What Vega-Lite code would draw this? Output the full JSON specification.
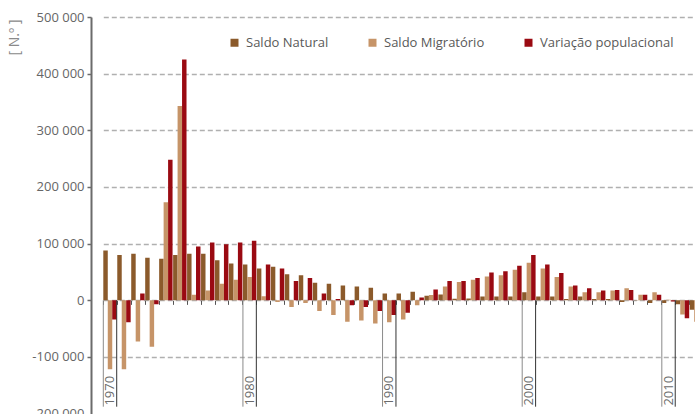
{
  "$schema": "https://vega.github.io/schema/vega-lite/v6.json",
  "width": 598,
  "height": 396.5,
  "autosize": {"type": "none"},
  "padding": {"left": 97, "top": 17, "right": 0, "bottom": 0},
  "background": "white",
  "config": {
    "view": {"stroke": null},
    "font": "Open Sans",
    "locale": {"number": {"decimal": ",", "thousands": " ", "grouping": [3], "currency": ["", " €"], "minus": "-"}},
    "axisX": {"domain": false, "labels": false, "ticks": true, "tickSize": 4, "tickColor": "#555555", "tickWidth": 1, "bandPosition": 0, "offset": -113.14, "grid": false}
  },
  "datasets": {
    "main": [
      {"year": 1970, "Saldo Natural": 87600, "Saldo Migratório": -122000, "Variação populacional": -34000},
      {"year": 1971, "Saldo Natural": 80000, "Saldo Migratório": -122000, "Variação populacional": -39000},
      {"year": 1972, "Saldo Natural": 82000, "Saldo Migratório": -73000, "Variação populacional": 12000},
      {"year": 1973, "Saldo Natural": 75000, "Saldo Migratório": -82000, "Variação populacional": -7000},
      {"year": 1974, "Saldo Natural": 73000, "Saldo Migratório": 173000, "Variação populacional": 248000},
      {"year": 1975, "Saldo Natural": 80000, "Saldo Migratório": 343000, "Variação populacional": 425000},
      {"year": 1976, "Saldo Natural": 82000, "Saldo Migratório": 9500, "Variação populacional": 95000},
      {"year": 1977, "Saldo Natural": 82000, "Saldo Migratório": 17000, "Variação populacional": 102000},
      {"year": 1978, "Saldo Natural": 70500, "Saldo Migratório": 29000, "Variação populacional": 99000},
      {"year": 1979, "Saldo Natural": 65000, "Saldo Migratório": 36000, "Variação populacional": 102000},
      {"year": 1980, "Saldo Natural": 63000, "Saldo Migratório": 41000, "Variação populacional": 105000},
      {"year": 1981, "Saldo Natural": 56000, "Saldo Migratório": 7000, "Variação populacional": 63000},
      {"year": 1982, "Saldo Natural": 59000, "Saldo Migratório": -3000, "Variação populacional": 56000},
      {"year": 1983, "Saldo Natural": 46000, "Saldo Migratório": -12000, "Variação populacional": 34000},
      {"year": 1984, "Saldo Natural": 44000, "Saldo Migratório": -5000, "Variação populacional": 39000},
      {"year": 1985, "Saldo Natural": 31000, "Saldo Migratório": -19000, "Variação populacional": 12000},
      {"year": 1986, "Saldo Natural": 29000, "Saldo Migratório": -26000, "Variação populacional": 2000},
      {"year": 1987, "Saldo Natural": 26000, "Saldo Migratório": -38000, "Variação populacional": -9000},
      {"year": 1988, "Saldo Natural": 24000, "Saldo Migratório": -36000, "Variação populacional": -12000},
      {"year": 1989, "Saldo Natural": 22000, "Saldo Migratório": -41000, "Variação populacional": -19000},
      {"year": 1990, "Saldo Natural": 12000, "Saldo Migratório": -39000, "Variação populacional": -26000},
      {"year": 1991, "Saldo Natural": 12000, "Saldo Migratório": -34000, "Variação populacional": -22000},
      {"year": 1992, "Saldo Natural": 15000, "Saldo Migratório": -9000, "Variação populacional": 5000},
      {"year": 1993, "Saldo Natural": 8000, "Saldo Migratório": 9000, "Variação populacional": 19000},
      {"year": 1994, "Saldo Natural": 10000, "Saldo Migratório": 24000, "Variação populacional": 34000},
      {"year": 1995, "Saldo Natural": 2500, "Saldo Migratório": 32000, "Variação populacional": 34000},
      {"year": 1996, "Saldo Natural": 3000, "Saldo Migratório": 36000, "Variação populacional": 39000},
      {"year": 1997, "Saldo Natural": 6500, "Saldo Migratório": 42000, "Variação populacional": 49000},
      {"year": 1998, "Saldo Natural": 6500, "Saldo Migratório": 44000, "Variação populacional": 51000},
      {"year": 1999, "Saldo Natural": 6500, "Saldo Migratório": 54000, "Variação populacional": 61000},
      {"year": 2000, "Saldo Natural": 14000, "Saldo Migratório": 66000, "Variação populacional": 80000},
      {"year": 2001, "Saldo Natural": 6500, "Saldo Migratório": 56000, "Variação populacional": 63000},
      {"year": 2002, "Saldo Natural": 6500, "Saldo Migratório": 41000, "Variação populacional": 48000},
      {"year": 2003, "Saldo Natural": 2000, "Saldo Migratório": 24000, "Variação populacional": 26000},
      {"year": 2004, "Saldo Natural": 6500, "Saldo Migratório": 14000, "Variação populacional": 21000},
      {"year": 2005, "Saldo Natural": 2000, "Saldo Migratório": 14000, "Variação populacional": 17000},
      {"year": 2006, "Saldo Natural": 2000, "Saldo Migratório": 17000, "Variação populacional": 18000},
      {"year": 2007, "Saldo Natural": -3000, "Saldo Migratório": 21000, "Variação populacional": 18000},
      {"year": 2008, "Saldo Natural": 500, "Saldo Migratório": 9500, "Variação populacional": 9500},
      {"year": 2009, "Saldo Natural": -5000, "Saldo Migratório": 14000, "Variação populacional": 9500},
      {"year": 2010, "Saldo Natural": -5000, "Saldo Migratório": 1000, "Variação populacional": -2400},
      {"year": 2011, "Saldo Natural": -7000, "Saldo Migratório": -25000, "Variação populacional": -32000},
      {"year": 2012, "Saldo Natural": -17000, "Saldo Migratório": -38000, "Variação populacional": -55000}
    ],
    "decades": [
      {"year": 1970}, {"year": 1980}, {"year": 1990}, {"year": 2000}, {"year": 2010}
    ]
  },
  "layer": [
    {
      "data": {"name": "main"},
      "transform": [
        {"fold": ["Saldo Natural", "Saldo Migratório", "Variação populacional"], "as": ["serie", "value"]}
      ],
      "mark": {"type": "bar", "clip": true},
      "encoding": {
        "x": {
          "field": "year", "type": "ordinal", "title": null,
          "scale": {"range": [6.3, 606.15], "paddingInner": 0.04, "paddingOuter": 0}
        },
        "xOffset": {
          "field": "serie", "type": "nominal",
          "sort": ["Saldo Natural", "Saldo Migratório", "Variação populacional"],
          "scale": {"paddingInner": 0, "paddingOuter": 0}
        },
        "y": {
          "field": "value", "type": "quantitative", "title": "[ N.º ]",
          "scale": {"domain": [-200000, 500000], "nice": false, "zero": false},
          "axis": {
            "values": [-200000, -100000, 0, 100000, 200000, 300000, 400000, 500000],
            "format": ",d",
            "offset": 6,
            "domainColor": "#6b6b6b", "domainWidth": 2,
            "tickColor": "#6b6b6b", "tickSize": 4, "tickWidth": 1.5,
            "labelPadding": 3, "labelFontSize": 13, "labelColor": "#666666", "labelFont": "Open Sans",
            "labelOverlap": false, "labelBound": false, "labelFlush": false,
            "grid": true, "gridDash": [5, 3], "gridColor": "#b0b0b0", "gridWidth": 1.5,
            "titleFont": "Open Sans", "titleFontSize": 14, "titleFontWeight": "normal", "titleColor": "#8a8a8a",
            "titleAngle": 270, "titleAlign": "right", "titleBaseline": "middle",
            "titleX": -77, "titleY": 2
          }
        },
        "color": {
          "field": "serie", "type": "nominal",
          "scale": {
            "domain": ["Saldo Natural", "Saldo Migratório", "Variação populacional"],
            "range": ["#8B5A2B", "#C69468", "#9A0A12"]
          },
          "legend": {
            "title": null, "orient": "none", "legendX": 131, "legendY": 19,
            "direction": "horizontal", "columns": 3, "columnPadding": 37,
            "symbolType": "square", "symbolSize": 64, "symbolStrokeWidth": 0,
            "labelFontSize": 13, "labelColor": "#595959", "labelFont": "Open Sans", "labelOffset": 5,
            "padding": 0
          }
        }
      }
    },
    {
      "mark": {"type": "rule", "color": "#555555", "strokeWidth": 1.5},
      "encoding": {"y": {"datum": 0}}
    },
    {
      "data": {"name": "decades"},
      "mark": {"type": "rule", "color": "#8a8a8a", "strokeWidth": 1},
      "encoding": {
        "x": {"field": "year", "type": "ordinal", "bandPosition": 0, "title": null},
        "y": {"datum": 0},
        "y2": {"datum": -188000}
      }
    },
    {
      "data": {"name": "decades"},
      "mark": {"type": "rule", "color": "#333333", "strokeWidth": 1},
      "encoding": {
        "x": {"field": "year", "type": "ordinal", "bandPosition": 1, "title": null},
        "y": {"datum": 0},
        "y2": {"datum": -188000}
      }
    },
    {
      "data": {"name": "decades"},
      "mark": {"type": "text", "angle": 270, "align": "left", "baseline": "middle", "fontSize": 13, "color": "#6b6b6b", "font": "Open Sans"},
      "encoding": {
        "x": {"field": "year", "type": "ordinal", "bandPosition": 0.5, "title": null},
        "y": {"datum": -186000},
        "text": {"field": "year", "type": "nominal"}
      }
    }
  ]
}
